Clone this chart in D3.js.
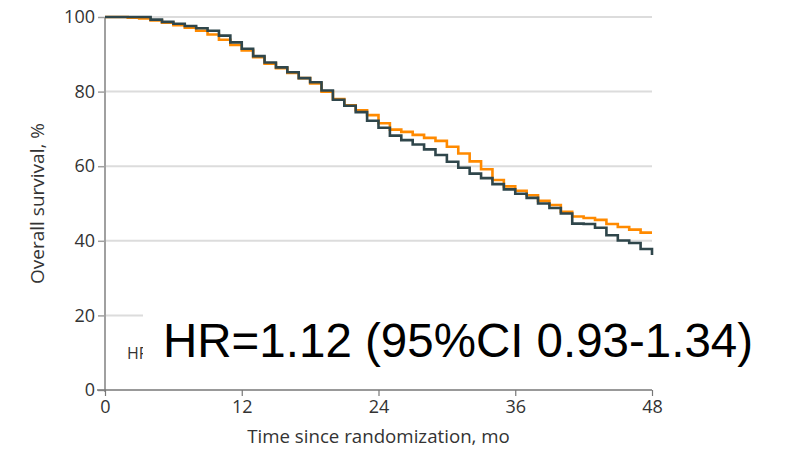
<!DOCTYPE html>
<html>
<head>
<meta charset="utf-8">
<script src="https://cdn.jsdelivr.net/npm/d3@7"></script>
<style>
  body { margin: 0; background: #fff; }
  svg { display: block; }
</style>
</head>
<body>
<svg width="785" height="454"></svg>
<script>
// months since randomization
var months = d3.range(0, 49);
// overall survival, % (one value per month)
var darkArm = [100, 100, 100, 100, 99.3, 98.7, 98.2, 97.6, 97.0, 96.3,
  95.0, 93.2, 91.5, 89.5, 87.8, 86.5, 85.2, 83.6, 82.5, 80.3,
  77.8, 76.2, 74.5, 72.2, 70.3, 68.2, 67.0, 65.8, 64.5, 63.0,
  61.2, 59.6, 58.0, 56.8, 55.2, 53.8, 52.6, 51.5, 50.0, 48.8,
  47.3, 44.6, 44.5, 43.5, 41.5, 40.1, 39.4, 37.8, 36.2];
var orangeArm = [100, 100, 99.8, 99.6, 99.1, 98.5, 97.8, 97.1, 96.3, 95.3,
  93.9, 92.5, 91.0, 89.2, 87.5, 86.3, 85.0, 83.6, 82.2, 80.0,
  78.0, 76.3, 75.0, 73.7, 71.5, 69.8, 69.2, 68.4, 67.6, 66.8,
  65.2, 63.4, 61.3, 59.2, 56.3, 54.6, 53.4, 52.2, 50.7, 49.6,
  47.8, 46.5, 46.1, 45.6, 44.5, 43.7, 43.0, 42.2, 42.2];
var xTicks = [0, 12, 24, 36, 48];
var yTicks = [0, 20, 40, 60, 80, 100];
var hrText = "HR=1.12 (95%CI 0.93-1.34)";

var svg = d3.select("svg"),
    margin = {left: 105, right: 133, top: 17, bottom: 64},
    width = +svg.attr("width") - margin.left - margin.right,
    height = +svg.attr("height") - margin.top - margin.bottom;

var x = d3.scaleLinear().domain([0, 48]).range([margin.left, margin.left + width]);
var y = d3.scaleLinear().domain([0, 100]).range([margin.top + height, margin.top]);

var axisFont = "'Open Sans', sans-serif";

// gridlines
svg.append("g")
  .selectAll("line")
  .data(yTicks.filter(d => d > 0))
  .enter().append("line")
  .attr("x1", x(0)).attr("x2", x(48))
  .attr("y1", d => y(d)).attr("y2", d => y(d))
  .attr("stroke", "#dcdcdc")
  .attr("stroke-width", 2);

// y axis
var yAxis = svg.append("g")
  .attr("transform", "translate(" + x(0) + ",0)")
  .call(d3.axisLeft(y).tickValues(yTicks).tickSize(7).tickPadding(3));
yAxis.select(".domain").attr("stroke", "#a0a0a0").attr("stroke-width", 2)
  .attr("d", "M0," + (y(100)) + "V" + (y(0) + 2));
yAxis.selectAll(".tick line").attr("stroke", "#a0a0a0").attr("stroke-width", 1.5);
yAxis.selectAll(".tick text")
  .attr("font-family", axisFont).attr("font-size", 18).attr("fill", "#333");

// x axis
var xAxis = svg.append("g")
  .attr("transform", "translate(0," + y(0) + ")")
  .call(d3.axisBottom(x).tickValues(xTicks).tickSize(6).tickPadding(4));
xAxis.select(".domain").attr("stroke", "#777").attr("stroke-width", 1.5)
  .attr("d", "M" + (x(0) - 8) + ",0H" + x(48));
xAxis.selectAll(".tick line").attr("stroke", "#777").attr("stroke-width", 1.2);
xAxis.selectAll(".tick text")
  .attr("font-family", axisFont).attr("font-size", 18).attr("fill", "#333");

// axis titles
svg.append("text")
  .attr("x", (x(0) + x(48)) / 2)
  .attr("y", 443)
  .attr("text-anchor", "middle")
  .attr("font-family", axisFont).attr("font-size", 18.7).attr("fill", "#333")
  .text("Time since randomization, mo");
svg.append("text")
  .attr("transform", "translate(44," + ((y(0) + y(100)) / 2) + ") rotate(-90)")
  .attr("text-anchor", "middle")
  .attr("font-family", axisFont).attr("font-size", 19).attr("fill", "#333")
  .text("Overall survival, %");

// survival curves
var line = d3.line()
  .x((d, i) => x(months[i]))
  .y(d => y(d))
  .curve(d3.curveStepAfter);

svg.append("path")
  .datum(orangeArm)
  .attr("fill", "none")
  .attr("stroke", "#ff8a00")
  .attr("stroke-width", 2.6)
  .attr("d", line);
svg.append("path")
  .datum(darkArm)
  .attr("fill", "none")
  .attr("stroke", "#2f464b")
  .attr("stroke-width", 2.6)
  .attr("d", line);

// small original label, partly hidden by the pasted box
svg.append("text")
  .attr("x", 127).attr("y", 359)
  .attr("font-family", axisFont).attr("font-size", 16).attr("fill", "#333")
  .text("HR");

svg.append("rect")
  .attr("x", 143).attr("y", 305)
  .attr("width", 640).attr("height", 68)
  .attr("fill", "#fff");

svg.append("text")
  .attr("x", 163).attr("y", 357)
  .attr("font-family", "'Liberation Sans', Arial, sans-serif")
  .attr("font-size", 47.5).attr("fill", "#000")
  .text(hrText);
</script>
</body>
</html>
